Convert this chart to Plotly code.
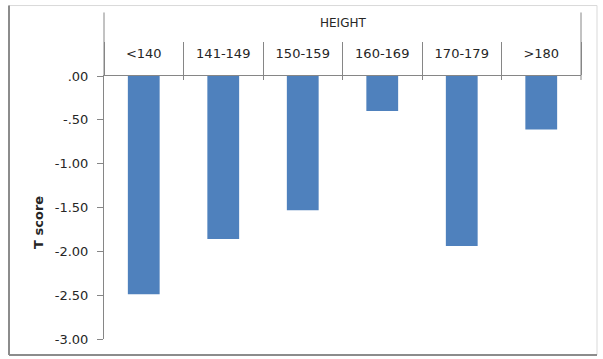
import plotly.graph_objects as go

categories = ["<140", "141-149", "150-159", "160-169", "170-179", ">180"]
t_scores = [-2.49, -1.86, -1.53, -0.40, -1.94, -0.61]
y_tickvals = [0, -0.5, -1.0, -1.5, -2.0, -2.5, -3.0]
y_ticktext = [".00", "-.50", "-1.00", "-1.50", "-2.00", "-2.50", "-3.00"]
group_label = "HEIGHT"
y_title = "T score"

FONT = "DejaVu Sans"
AXIS_COLOR = "#868686"
BAR_COLOR = "#4F81BD"

W, H = 603, 359
L, R, T, B = 104, 581, 76, 341
pw, ph = R - L, B - T

def px(x):
    return (x - L) / pw

def py(y):
    return (B - y) / ph

fig = go.Figure()
fig.add_trace(go.Bar(x=categories, y=t_scores, marker_color=BAR_COLOR,
                     marker_line_width=0, width=0.4, showlegend=False))
# invisible copy used only to drive the short below-axis divider ticks
fig.add_trace(go.Bar(x=categories, y=t_scores, xaxis="x2", opacity=0,
                     showlegend=False, hoverinfo="skip", width=0.4))

fig.update_layout(
    width=W, height=H,
    margin=dict(l=L, r=W - R, t=T, b=H - B, pad=0),
    paper_bgcolor="white", plot_bgcolor="white",
    font=dict(family=FONT, size=13, color="#262626"),
    bargap=0.6,
    xaxis=dict(
        type="category", categoryarray=categories, side="top",
        range=[-0.5, 5.5],
        showline=True, linecolor=AXIS_COLOR, linewidth=1,
        ticks="outside", tickson="boundaries", ticklen=33,
        tickcolor=AXIS_COLOR, tickwidth=1,
        ticklabelstandoff=12,
        tickfont=dict(family=FONT, size=13, color="#262626"),
        showgrid=False, zeroline=False, fixedrange=True,
    ),
    xaxis2=dict(
        type="category", categoryarray=categories, side="top",
        overlaying="x", anchor="y", range=[-0.5, 5.5],
        showline=False, ticks="inside", tickson="boundaries", ticklen=4,
        tickcolor=AXIS_COLOR, tickwidth=1, showticklabels=False,
        showgrid=False, zeroline=False,
    ),
    yaxis=dict(
        range=[-3, 0], tickvals=y_tickvals, ticktext=y_ticktext,
        showline=True, linecolor=AXIS_COLOR, linewidth=1,
        ticks="outside", ticklen=6, tickcolor=AXIS_COLOR, tickwidth=1,
        ticklabelstandoff=6,
        tickfont=dict(family=FONT, size=13, color="#262626"),
        showgrid=False, zeroline=False, fixedrange=True,
    ),
)

shapes = [
    # outer chart frame
    dict(type="rect", xref="paper", yref="paper",
         x0=px(9), x1=px(597), y0=py(357), y1=py(5),
         line=dict(color="#d9d9d9", width=1), layer="below"),
    dict(type="line", xref="paper", yref="paper",
         x0=px(9), x1=px(9), y0=py(357), y1=py(5),
         line=dict(color="#8c8c8c", width=2)),
    dict(type="line", xref="paper", yref="paper",
         x0=px(9), x1=px(597), y0=py(357), y1=py(357),
         line=dict(color="#8c8c8c", width=2)),
    # tall group boundary lines
    dict(type="line", xref="paper", yref="paper",
         x0=0, x1=0, y0=1, y1=py(12),
         line=dict(color=AXIS_COLOR, width=1)),
    dict(type="line", xref="paper", yref="paper",
         x0=1, x1=1, y0=py(80), y1=py(12),
         line=dict(color=AXIS_COLOR, width=1)),
]
fig.update_layout(shapes=shapes)

fig.add_annotation(text=group_label, xref="paper", yref="paper",
                   x=0.5, y=py(23), xanchor="center", yanchor="middle",
                   showarrow=False, font=dict(family=FONT, size=12, color="#262626"))
fig.add_annotation(text="<b>" + y_title + "</b>", xref="paper", yref="paper",
                   x=px(39), y=py(224), xanchor="center", yanchor="middle",
                   textangle=-90, showarrow=False,
                   font=dict(family=FONT, size=13, color="#262626"))

fig.write_html("out.html")
